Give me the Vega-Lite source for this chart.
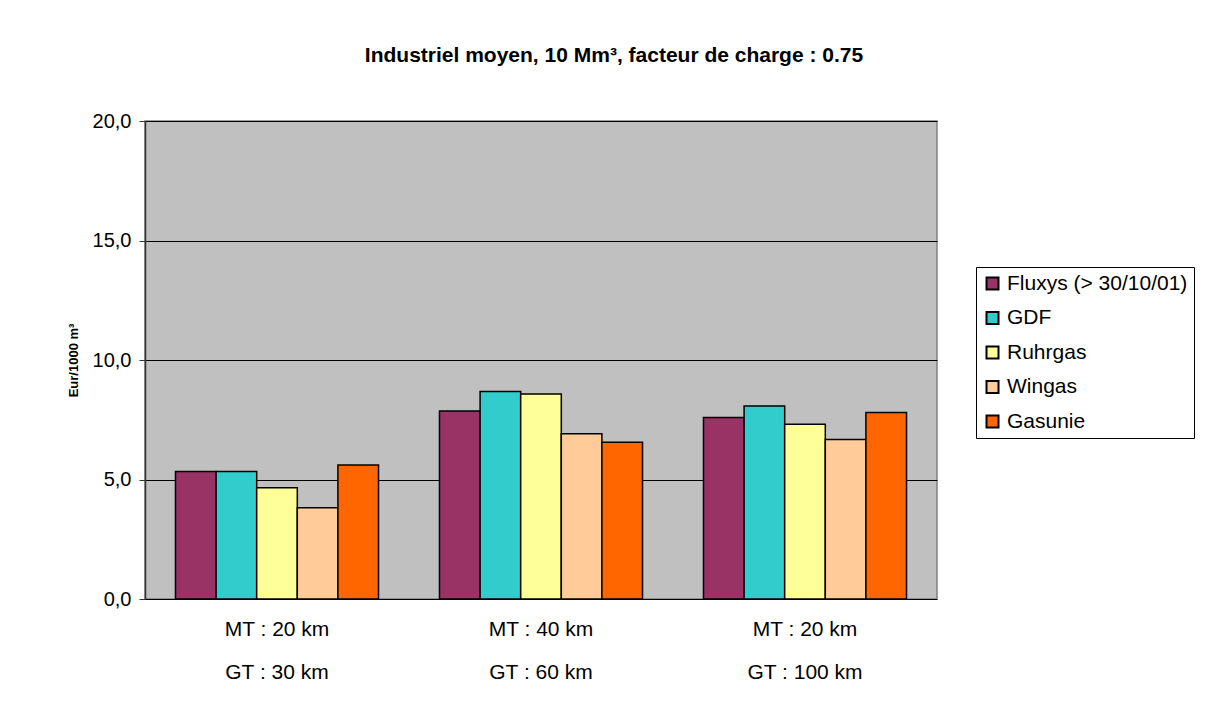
{
  "$schema": "https://vega.github.io/schema/vega-lite/v6.json",
  "autosize": {"type": "none"},
  "padding": {"left": 145, "top": 121, "right": 271, "bottom": 123},
  "width": 792,
  "height": 478,
  "background": "white",
  "title": {
    "text": "Industriel moyen, 10 Mm³, facteur de charge : 0.75",
    "font": "Liberation Sans",
    "fontSize": 21,
    "fontWeight": "bold",
    "color": "black",
    "anchor": "middle",
    "dx": 73,
    "offset": 45
  },
  "data": {
    "values": [
      {"route": "MT : 20 km|GT : 30 km", "operator": "Fluxys (> 30/10/01)", "value": 5.33},
      {"route": "MT : 20 km|GT : 30 km", "operator": "GDF", "value": 5.33},
      {"route": "MT : 20 km|GT : 30 km", "operator": "Ruhrgas", "value": 4.65},
      {"route": "MT : 20 km|GT : 30 km", "operator": "Wingas", "value": 3.82},
      {"route": "MT : 20 km|GT : 30 km", "operator": "Gasunie", "value": 5.61},
      {"route": "MT : 40 km|GT : 60 km", "operator": "Fluxys (> 30/10/01)", "value": 7.87},
      {"route": "MT : 40 km|GT : 60 km", "operator": "GDF", "value": 8.68},
      {"route": "MT : 40 km|GT : 60 km", "operator": "Ruhrgas", "value": 8.58},
      {"route": "MT : 40 km|GT : 60 km", "operator": "Wingas", "value": 6.91},
      {"route": "MT : 40 km|GT : 60 km", "operator": "Gasunie", "value": 6.56},
      {"route": "MT : 20 km|GT : 100 km", "operator": "Fluxys (> 30/10/01)", "value": 7.59},
      {"route": "MT : 20 km|GT : 100 km", "operator": "GDF", "value": 8.08},
      {"route": "MT : 20 km|GT : 100 km", "operator": "Ruhrgas", "value": 7.31},
      {"route": "MT : 20 km|GT : 100 km", "operator": "Wingas", "value": 6.67},
      {"route": "MT : 20 km|GT : 100 km", "operator": "Gasunie", "value": 7.8}
    ]
  },
  "mark": {"type": "bar", "stroke": "black", "strokeWidth": 1.5},
  "encoding": {
    "x": {
      "field": "route",
      "type": "nominal",
      "sort": null,
      "scale": {"paddingInner": 0.231, "paddingOuter": 0.1155},
      "axis": {
        "title": null,
        "labelAngle": 0,
        "labelExpr": "split(datum.label, '|')",
        "labelLineHeight": 43,
        "labelFontSize": 21,
        "labelColor": "black",
        "labelPadding": 19,
        "ticks": false,
        "domain": false,
        "grid": false
      }
    },
    "xOffset": {
      "field": "operator",
      "type": "nominal",
      "sort": ["Fluxys (> 30/10/01)", "GDF", "Ruhrgas", "Wingas", "Gasunie"],
      "scale": {"paddingInner": 0, "paddingOuter": 0}
    },
    "y": {
      "field": "value",
      "type": "quantitative",
      "scale": {"domain": [0, 20], "nice": false},
      "axis": {
        "title": "Eur/1000 m³",
        "titleFontSize": 13,
        "titleFontWeight": "bold",
        "titleColor": "black",
        "titleX": -72,
        "titleBaseline": "middle",
        "values": [0, 5, 10, 15, 20],
        "labelExpr": "replace(format(datum.value, '.1f'), '.', ',')",
        "labelFontSize": 20,
        "labelColor": "black",
        "labelPadding": 8,
        "tickSize": 6,
        "tickColor": "#333333",
        "domainColor": "#333333",
        "domainWidth": 1.5,
        "grid": true,
        "gridColor": "black",
        "gridWidth": 1
      }
    },
    "color": {
      "field": "operator",
      "type": "nominal",
      "scale": {
        "domain": ["Fluxys (> 30/10/01)", "GDF", "Ruhrgas", "Wingas", "Gasunie"],
        "range": ["#993366", "#33CCCC", "#FFFF99", "#FFCC99", "#FF6600"]
      },
      "legend": {
        "title": null,
        "orient": "none",
        "legendX": 831,
        "legendY": 146,
        "fillColor": "white",
        "strokeColor": "black",
        "padding": 6,
        "symbolType": "square",
        "symbolSize": 144,
        "symbolStrokeColor": "black",
        "symbolStrokeWidth": 2,
        "labelFontSize": 21,
        "labelColor": "black",
        "labelOffset": 4,
        "rowPadding": 12.5,
        "labelLimit": 300
      }
    }
  },
  "config": {
    "font": "Liberation Sans",
    "view": {"fill": "#C0C0C0", "stroke": "#808080", "strokeWidth": 1.5}
  }
}
